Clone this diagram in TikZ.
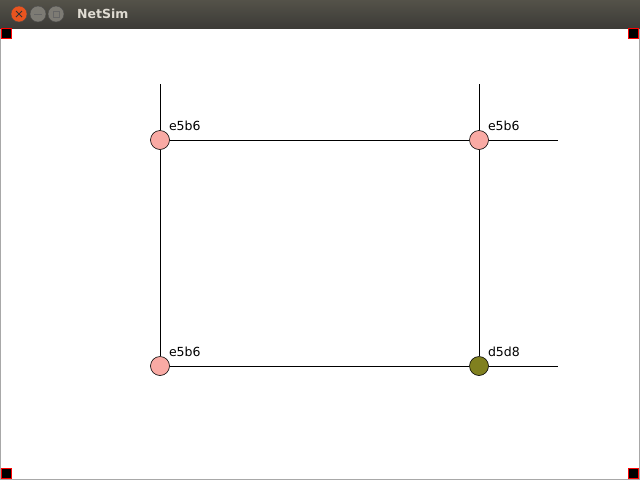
\documentclass[tikz,border=0pt]{standalone}
\usepackage{fontspec}
\setmainfont{DejaVu Sans}
\usepackage{tikz}
\usetikzlibrary{positioning}
\definecolor{barTop}{HTML}{545249}
\definecolor{barBot}{HTML}{3C3B37}
\definecolor{hostPink}{HTML}{F9AAA4}
\definecolor{hostOlive}{HTML}{80801F}
\definecolor{closeRed}{HTML}{E9541F}
\definecolor{btnGray}{HTML}{7D7B74}
\definecolor{titleText}{HTML}{DFDBD2}
\definecolor{winBorder}{HTML}{A8A8A8}

\begin{document}
\begin{tikzpicture}[x=1pt, y=-1pt]
        % window frame and title bar
        \useasboundingbox (0,0) rectangle (640,480);
        \fill[white] (0,28) rectangle (640,480);
        \draw[winBorder] (0.5,28) -- (0.5,479.5) -- (639.5,479.5) -- (639.5,28);
        \shade[top color=barTop, bottom color=barBot] (0,0) rectangle (640,28);
        \tikzstyle{winbtn}=[circle, minimum size=16pt, inner sep=0pt, draw=black!70]
        \node[winbtn, fill=closeRed] (close) at (19,14) {};
        \node[winbtn, fill=btnGray] (minim) at (38,14) {};
        \node[winbtn, fill=btnGray] (maxim) at (56,14) {};
        \draw[black!80, thick] (16,11) -- (22,17) (16,17) -- (22,11);
        \draw[black!60, thick] (34,14) -- (42,14);
        \draw[black!60] (53,11) rectangle (59,17);
        \node[anchor=west, inner sep=0pt, text=titleText, font=\bfseries\fontsize{12.5}{14}\selectfont] (title) at (77,14) {NetSim};
        % corner markers
        \tikzstyle{corner}=[draw=red, fill=black, minimum size=10pt, inner sep=0pt, line width=1pt]
        \node[corner] (cNW) at (6,33) {};
        \node[corner] (cNE) at (633,33) {};
        \node[corner] (cSW) at (6,473) {};
        \node[corner] (cSE) at (633,473) {};

        % network
        \tikzstyle{host}=[circle, draw=black, minimum size=19pt, inner sep=0pt, line width=0.6pt]
        \tikzstyle{tag}=[label distance=-2pt, font=\fontsize{12.5}{14}\selectfont]
        \tikzstyle{link}=[black, line width=0.8pt]
        \node[host, fill=hostPink, label={[tag, anchor=south west]45:e5b6}] (A) at (160,140) {};
        \node[host, fill=hostPink, label={[tag, anchor=south west]45:e5b6}] (B) at (479,140) {};
        \node[host, fill=hostPink, label={[tag, anchor=south west]45:e5b6}] (C) at (160,366) {};
        \node[host, fill=hostOlive, label={[tag, anchor=south west]45:d5d8}] (D) at (479,366) {};
        \coordinate (Aup) at (160,84);
        \coordinate (Bup) at (479,84);
        \coordinate (Bout) at (558,140);
        \coordinate (Dout) at (558,366);
        \draw[link] (Aup) -- (A);
        \draw[link] (Bup) -- (B);
        \draw[link] (A) -- (B);
        \draw[link] (B) -- (Bout);
        \draw[link] (A) -- (C);
        \draw[link] (B) -- (D);
        \draw[link] (C) -- (D);
        \draw[link] (D) -- (Dout);
\end{tikzpicture}
\end{document}
